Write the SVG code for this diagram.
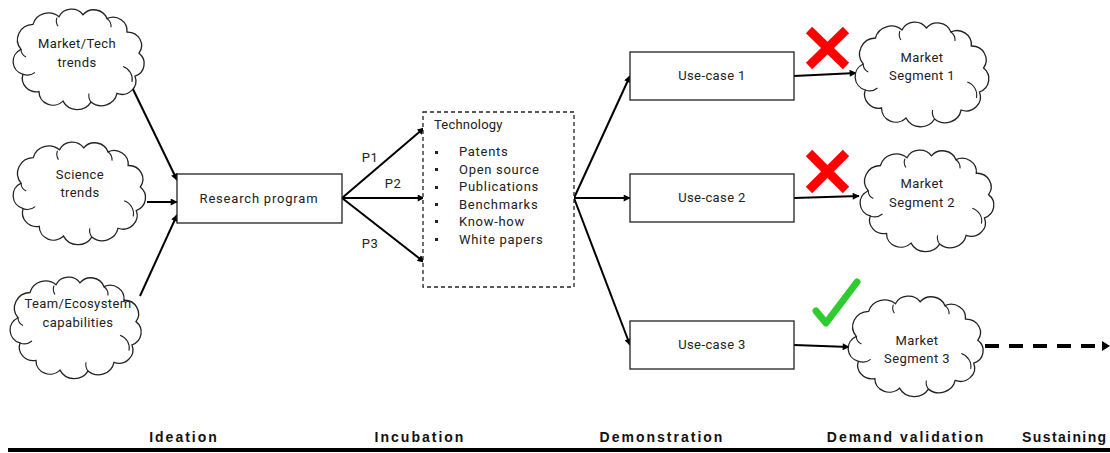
<svg xmlns="http://www.w3.org/2000/svg" xmlns:xlink="http://www.w3.org/1999/xlink" width="1110" height="453" viewBox="0 0 1110 453">
  <style>
    .cloud { fill: #fff; stroke: #222; stroke-width: 1.3; vector-effect: non-scaling-stroke; }
    .inner { fill: none; stroke: #222; stroke-width: 1.1; vector-effect: non-scaling-stroke; }
    .box { fill: #fff; stroke: #222; stroke-width: 1.3; }
    .dbox { fill: #fff; stroke: #222; stroke-width: 1.3; stroke-dasharray: 4 3; }
    .lbl { font-family: Roboto, "Liberation Sans", sans-serif; font-size: 13px; fill: #222; text-anchor: middle; letter-spacing: 0.4px; }
    .item { font-family: Roboto, "Liberation Sans", sans-serif; font-size: 13px; fill: #222; letter-spacing: 0.7px; }
    .phase { font-family: "Liberation Sans", Arial, sans-serif; font-size: 14px; font-weight: bold; fill: #111; text-anchor: middle; letter-spacing: 2px; }
    .edge { fill: none; stroke: #000; stroke-width: 2; marker-end: url(#arrow); }
    .cross { stroke: #ff0000; stroke-width: 9; }
  </style>
  <defs>
    <marker id="arrow" viewBox="0 0 10 10" refX="9" refY="5" markerWidth="8" markerHeight="7" markerUnits="userSpaceOnUse" orient="auto">
      <path d="M0,0 L10,5 L0,10 z" fill="#000"/>
    </marker>
    <!-- cloud outline in a 134x102 local box -->
    <g id="cloud">
      <path class="cloud" d="M10,42 A16,16 0 0 1 22,16 A16,16 0 0 1 48,8 A14,14 0 0 1 72,6 A14,14 0 0 1 96,10 A14,14 0 0 1 116,24 A14,14 0 0 1 128,46 A14,14 0 0 1 124,70 A14,14 0 0 1 106,88 A16,16 0 0 1 80,97 A16,16 0 0 1 52,96 A14,14 0 0 1 28,86 A14,14 0 0 1 12,68 A14,14 0 0 1 10,42 Z"/>
      <path class="inner" d="M112,60 A14,14 0 0 1 121,76"/>
      <path class="inner" d="M12,68 A12,12 0 0 0 24,66"/>
      <path class="inner" d="M46,9 A10,10 0 0 0 47,18"/>
      <path class="inner" d="M80,97 A12,12 0 0 1 78,88"/>
      <path class="inner" d="M96,10 A10,10 0 0 1 100,19"/>
      <path class="inner" d="M10,42 A9,9 0 0 0 15,50"/>
    </g>
  </defs>

  <rect width="1110" height="453" fill="#fff"/>

  <!-- connectors -->
  <g id="connectors">
    <line class="edge" x1="130" y1="83" x2="177" y2="180"/>
    <line class="edge" x1="147" y1="202" x2="177" y2="202"/>
    <line class="edge" x1="140" y1="296" x2="177" y2="215"/>
    <line class="edge" x1="342" y1="198" x2="424" y2="128"/>
    <line class="edge" x1="342" y1="198" x2="424" y2="198"/>
    <line class="edge" x1="342" y1="198" x2="424" y2="262"/>
    <line class="edge" x1="574" y1="198" x2="630" y2="76"/>
    <line class="edge" x1="574" y1="198" x2="630" y2="198"/>
    <line class="edge" x1="574" y1="198" x2="630" y2="345"/>
    <line class="edge" x1="794" y1="76" x2="856" y2="73"/>
    <line class="edge" x1="794" y1="198" x2="859" y2="196"/>
    <line class="edge" x1="794" y1="345" x2="849" y2="347"/>
    <line x1="985" y1="346" x2="1100" y2="346" stroke="#000" stroke-width="4" stroke-dasharray="14 10"/>
    <path d="M1102,341 L1110,346 L1102,351 z" fill="#000"/>
    <text class="lbl" x="370" y="162">P1</text>
    <text class="lbl" x="393" y="188">P2</text>
    <text class="lbl" x="370" y="248">P3</text>
  </g>

  <!-- idea sources -->
  <g id="market-tech-trends">
    <use xlink:href="#cloud" transform="translate(11,9) scale(1,0.96)"/>
    <text class="lbl" x="77" y="48">Market/Tech</text>
    <text class="lbl" x="77" y="67">trends</text>
  </g>
  <g id="science-trends">
    <use xlink:href="#cloud" transform="translate(11,142) scale(1.01,0.98)"/>
    <text class="lbl" x="80" y="179">Science</text>
    <text class="lbl" x="80" y="197">trends</text>
  </g>
  <g id="team-capabilities">
    <use xlink:href="#cloud" transform="translate(8,277) scale(1,0.97)"/>
    <text class="lbl" x="78" y="308">Team/Ecosystem</text>
    <text class="lbl" x="78" y="327">capabilities</text>
  </g>

  <g id="research-program">
    <rect class="box" x="177" y="174" width="165" height="49"/>
    <text class="lbl" x="259" y="203" style="letter-spacing:0.8px">Research program</text>
  </g>

  <g id="technology">
    <rect class="dbox" x="423" y="112" width="151" height="175"/>
    <text class="item" x="434" y="129" style="letter-spacing:0.2px">Technology</text>
    <g fill="#222">
      <rect x="435" y="151" width="3" height="3"/>
      <rect x="435" y="168" width="3" height="3"/>
      <rect x="435" y="186" width="3" height="3"/>
      <rect x="435" y="203" width="3" height="3"/>
      <rect x="435" y="220" width="3" height="3"/>
      <rect x="435" y="238" width="3" height="3"/>
    </g>
    <text class="item" x="459" y="156">Patents</text>
    <text class="item" x="459" y="174">Open source</text>
    <text class="item" x="459" y="191">Publications</text>
    <text class="item" x="459" y="209">Benchmarks</text>
    <text class="item" x="459" y="226">Know-how</text>
    <text class="item" x="459" y="244">White papers</text>
  </g>

  <g id="use-case-1">
    <rect class="box" x="630" y="52" width="164" height="48"/>
    <text class="lbl" x="712" y="80">Use-case 1</text>
  </g>
  <g id="use-case-2">
    <rect class="box" x="630" y="174" width="164" height="48"/>
    <text class="lbl" x="712" y="202">Use-case 2</text>
  </g>
  <g id="use-case-3">
    <rect class="box" x="630" y="321" width="164" height="48"/>
    <text class="lbl" x="712" y="349">Use-case 3</text>
  </g>

  <g id="market-segment-1">
    <use xlink:href="#cloud" transform="translate(853,22) scale(1.02,1)"/>
    <text class="lbl" x="922" y="62">Market</text>
    <text class="lbl" x="922" y="80">Segment 1</text>
  </g>
  <g id="market-segment-2">
    <use xlink:href="#cloud" transform="translate(858,150) scale(1.02,0.97)"/>
    <text class="lbl" x="922" y="188">Market</text>
    <text class="lbl" x="922" y="207">Segment 2</text>
  </g>
  <g id="market-segment-3">
    <use xlink:href="#cloud" transform="translate(846,296) scale(1.03,0.96)"/>
    <text class="lbl" x="917" y="345">Market</text>
    <text class="lbl" x="917" y="363">Segment 3</text>
  </g>

  <!-- validation marks -->
  <g id="reject-1">
    <line class="cross" x1="809" y1="30" x2="846" y2="66"/>
    <line class="cross" x1="846" y1="30" x2="809" y2="66"/>
  </g>
  <g id="reject-2">
    <line class="cross" x1="809" y1="153" x2="846" y2="190"/>
    <line class="cross" x1="846" y1="153" x2="809" y2="190"/>
  </g>
  <g id="accept-3">
    <path d="M816,311 L826,323 L857,282" fill="none" stroke="#2ecc2e" stroke-width="7" stroke-linecap="round" stroke-linejoin="round"/>
  </g>

  <!-- phase axis -->
  <g id="phases">
    <text class="phase" x="184" y="442">Ideation</text>
    <text class="phase" x="420" y="442">Incubation</text>
    <text class="phase" x="662" y="442">Demonstration</text>
    <text class="phase" x="906" y="442">Demand validation</text>
    <text class="phase" x="1022" y="442" style="text-anchor:start;letter-spacing:1.4px">Sustaining</text>
    <line x1="8" y1="450" x2="1110" y2="450" stroke="#000" stroke-width="4"/>
  </g>
</svg>
